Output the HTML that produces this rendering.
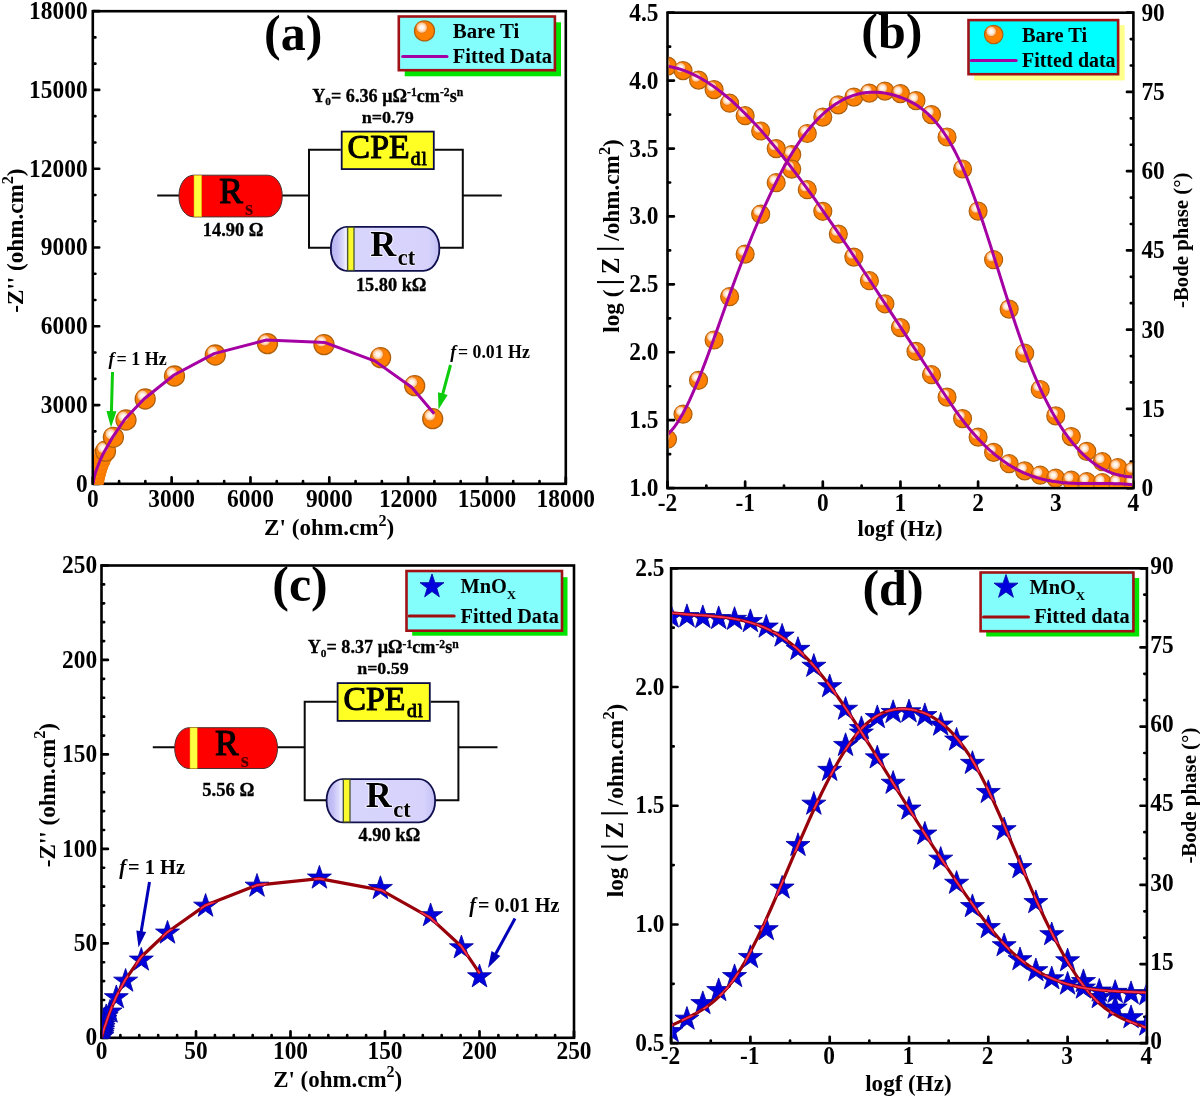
<!DOCTYPE html>
<html lang="en">
<head>
<meta charset="utf-8">
<title>EIS Nyquist and Bode plots: Bare Ti and MnOx</title>
<style>
html,body{margin:0;padding:0;background:#ffffff;}
body{width:1200px;height:1097px;overflow:hidden;}
svg{display:block;font-family:'Liberation Serif','DejaVu Serif',serif;font-weight:bold;}
text{fill:#000;}
</style>
</head>
<body>
<svg width="1200" height="1097" viewBox="0 0 1200 1097" role="img" aria-label="Nyquist and Bode plots with equivalent circuits for Bare Ti and MnOx">
<rect width="1200" height="1097" fill="#ffffff"/>
<defs>
<radialGradient id="hl" cx="0.5" cy="0.5" r="0.5">
<stop offset="0" stop-color="#ffffff"/>
<stop offset="0.4" stop-color="#fff2e4"/>
<stop offset="0.8" stop-color="#ffc490"/>
<stop offset="1" stop-color="#ff9a40"/>
</radialGradient>
<g id="ball">
<circle r="10" fill="#ff8000" stroke="#b0600c" stroke-width="1.3"/>
<circle cx="-2.7" cy="-3.3" r="5.7" fill="url(#hl)" stroke="#e07414" stroke-width="0.8"/>
</g>
<g id="ballc">
<circle r="10" fill="#ff8000" stroke="#f07804" stroke-width="1"/>
<circle cx="-2.7" cy="-3.3" r="5.7" fill="url(#hl)" opacity="0.75"/>
</g>
<path id="star" d="M0,-12.6 L2.95,-3.95 L12,-3.95 L4.75,1.5 L7.4,10.2 L0,4.95 L-7.4,10.2 L-4.75,1.5 L-12,-3.95 L-2.95,-3.95 Z" fill="#0000dc" stroke="#0000a0" stroke-width="0.8" stroke-linejoin="miter"/>
<path id="starc" d="M0,-12.6 L2.95,-3.95 L12,-3.95 L4.75,1.5 L7.4,10.2 L0,4.95 L-7.4,10.2 L-4.75,1.5 L-12,-3.95 L-2.95,-3.95 Z"/>
<linearGradient id="lav" x1="0" y1="0" x2="1" y2="0">
<stop offset="0" stop-color="#b6b2f0"/>
<stop offset="0.06" stop-color="#c4c0f6"/>
<stop offset="0.13" stop-color="#e6e4ff"/>
<stop offset="0.2" stop-color="#d8d5fd"/>
<stop offset="0.9" stop-color="#d6d2fc"/>
<stop offset="1" stop-color="#c2bef4"/>
</linearGradient>
</defs>
<clipPath id="ca"><rect x="94" y="11.2" width="473" height="473.2"/></clipPath>
<rect x="92.8" y="11.2" width="473" height="472.6" fill="none" stroke="#000" stroke-width="2.6"/>
<path d="M93.3,483.8h5.9M93.3,457.54h2.1M93.3,431.29h2.1M93.3,405.03h5.9M93.3,378.78h2.1M93.3,352.52h2.1M93.3,326.27h5.9M93.3,300.01h2.1M93.3,273.76h2.1M93.3,247.5h5.9M93.3,221.24h2.1M93.3,194.99h2.1M93.3,168.73h5.9M93.3,142.48h2.1M93.3,116.22h2.1M93.3,89.97h5.9M93.3,63.71h2.1M93.3,37.46h2.1M93.3,11.2h5.9" stroke="#000" stroke-width="2.7" stroke-linecap="round" fill="none"/>
<text transform="translate(87.6 491.59) scale(1 1.05)" font-size="23.4" text-anchor="end">0</text>
<text transform="translate(87.6 412.83) scale(1 1.05)" font-size="23.4" text-anchor="end">3000</text>
<text transform="translate(87.6 334.06) scale(1 1.05)" font-size="23.4" text-anchor="end">6000</text>
<text transform="translate(87.6 255.29) scale(1 1.05)" font-size="23.4" text-anchor="end">9000</text>
<text transform="translate(87.6 176.53) scale(1 1.05)" font-size="23.4" text-anchor="end">12000</text>
<text transform="translate(87.6 97.76) scale(1 1.05)" font-size="23.4" text-anchor="end">15000</text>
<text transform="translate(87.6 18.99) scale(1 1.05)" font-size="23.4" text-anchor="end">18000</text>
<path d="M92.8,483.3v-5.9M119.08,483.3v-2.1M145.36,483.3v-2.1M171.63,483.3v-5.9M197.91,483.3v-2.1M224.19,483.3v-2.1M250.47,483.3v-5.9M276.74,483.3v-2.1M303.02,483.3v-2.1M329.3,483.3v-5.9M355.58,483.3v-2.1M381.86,483.3v-2.1M408.13,483.3v-5.9M434.41,483.3v-2.1M460.69,483.3v-2.1M486.97,483.3v-5.9M513.24,483.3v-2.1M539.52,483.3v-2.1M565.8,483.3v-5.9" stroke="#000" stroke-width="2.7" stroke-linecap="round" fill="none"/>
<text transform="translate(92.8 506.6) scale(1 1.05)" font-size="23.4" text-anchor="middle">0</text>
<text transform="translate(171.63 506.6) scale(1 1.05)" font-size="23.4" text-anchor="middle">3000</text>
<text transform="translate(250.47 506.6) scale(1 1.05)" font-size="23.4" text-anchor="middle">6000</text>
<text transform="translate(329.3 506.6) scale(1 1.05)" font-size="23.4" text-anchor="middle">9000</text>
<text transform="translate(408.13 506.6) scale(1 1.05)" font-size="23.4" text-anchor="middle">12000</text>
<text transform="translate(486.97 506.6) scale(1 1.05)" font-size="23.4" text-anchor="middle">15000</text>
<text transform="translate(565.8 506.6) scale(1 1.05)" font-size="23.4" text-anchor="middle">18000</text>
<g clip-path="url(#ca)">
<use href="#ballc" x="93.4" y="482.5"/>
<use href="#ballc" x="93.8" y="480.5"/>
<use href="#ballc" x="94.3" y="478.2"/>
<use href="#ballc" x="94.9" y="475.6"/>
<use href="#ballc" x="95.7" y="472.6"/>
<use href="#ballc" x="96.8" y="469"/>
<use href="#ballc" x="98.2" y="465"/>
<use href="#ballc" x="100.2" y="460.3"/>
<use href="#ballc" x="102.5" y="455.5"/>
<use href="#ball" x="105.5" y="451.2"/>
<use href="#ball" x="113.4" y="437.3"/>
<use href="#ball" x="126" y="420"/>
<use href="#ball" x="145.2" y="399"/>
<use href="#ball" x="174.5" y="376"/>
<use href="#ball" x="215.3" y="355"/>
<use href="#ball" x="267.5" y="343.6"/>
<use href="#ball" x="324" y="344.6"/>
<use href="#ball" x="380.6" y="357.6"/>
<use href="#ball" x="414.7" y="385.7"/>
<use href="#ball" x="432.7" y="418.7"/>
<polyline points="93,484 93.6,480 94.6,475.5 95.8,471.5 97.3,467.5 99.2,462.5 101.4,457.5 104,452.2 113,436.6 125,419 144,399 174,375 214.1,353.6 266.5,340 325.2,342.6 375.1,361.1 411.7,387.2 434.2,413.7" fill="none" stroke="#a400a4" stroke-width="3.0" stroke-linejoin="round"/>
</g>
<text transform="translate(22.9 240.6) rotate(-90)" font-size="23.3" text-anchor="middle" textLength="144.2" lengthAdjust="spacingAndGlyphs">-Z'' (ohm.cm<tspan dy="-9.55" font-size="16.31">2</tspan><tspan dy="9.55">)</tspan></text>
<text transform="translate(329.2 535.2)" font-size="23.3" text-anchor="middle" textLength="130.2" lengthAdjust="spacingAndGlyphs">Z' (ohm.cm<tspan dy="-9.55" font-size="16.31">2</tspan><tspan dy="9.55">)</tspan></text>
<text transform="translate(293.2 50)" font-size="50" text-anchor="middle">(a)</text>
<line x1="112.5" y1="372" x2="111.39" y2="413.11" stroke="#0ccc0c" stroke-width="3"/>
<polygon points="111,427.6 106.45,410.97 116.44,411.24" fill="#0ccc0c"/>
<line x1="450.5" y1="365" x2="442.27" y2="395.6" stroke="#0ccc0c" stroke-width="3"/>
<polygon points="438.5,409.6 437.96,392.37 447.62,394.97" fill="#0ccc0c"/>
<text transform="translate(108.6 365) scale(1 1.04)" font-size="17.3" textLength="58.2" lengthAdjust="spacingAndGlyphs"><tspan font-style="italic">f</tspan><tspan dx="1.8">= 1 Hz</tspan></text>
<text transform="translate(450.2 358) scale(1 1.04)" font-size="17.3" textLength="79.6" lengthAdjust="spacingAndGlyphs"><tspan font-style="italic">f</tspan><tspan dx="1.8">= 0.01 Hz</tspan></text>
<rect x="404.7" y="22.3" width="156.3" height="54" fill="#00e400"/>
<rect x="398.8" y="16.5" width="156.1" height="53.7" fill="#84fdfd" stroke="#a01216" stroke-width="2.6"/>
<line x1="402.7" y1="56.5" x2="447" y2="56.5" stroke="#a400a4" stroke-width="3" stroke-linecap="round"/>
<use href="#ball" transform="translate(424.5 30.9) scale(1)"/>
<text transform="translate(452.8 38)" font-size="20.4" textLength="66.6" lengthAdjust="spacingAndGlyphs">Bare Ti</text>
<text transform="translate(452.8 63.2)" font-size="20.4">Fitted Data</text>
<path d="M157.2,195.6H180.5M280.7,195.6H309M340.8,149.7H309V247.8H332M434.7,149.7H462.8V247.8H438.2M462.8,195.6H501.8" fill="none" stroke="#0a0a0a" stroke-width="2.0"/>
<rect x="179" y="175.2" width="103.2" height="41.7" rx="14.5" ry="20" fill="#ff0000" stroke="#4a3030" stroke-width="1"/>
<rect x="194" y="175.3" width="7.7" height="41.5" fill="#ffff40" stroke="#d8a800" stroke-width="0.5"/>
<text transform="translate(219.2 202.6)" font-size="35.4" font-weight="normal" stroke="#000" stroke-width="1.2" stroke-linejoin="round">R<tspan x="25.8" y="11.9" font-size="21" font-weight="bold" fill="#480000" stroke="none">s</tspan></text>
<text transform="translate(202.8 235.7) scale(1 1.07)" font-size="17.3" textLength="60.6" lengthAdjust="spacingAndGlyphs" stroke="#000" stroke-width="0.3">14.90 Ω</text>
<rect x="341.7" y="131.6" width="92.1" height="37.5" fill="#ffff24" stroke="#0c0c44" stroke-width="1.8"/>
<text transform="translate(347.6 158)" font-size="33.8" font-weight="normal" stroke="#000" stroke-width="1.1" stroke-linejoin="round">CPE<tspan x="63.2" y="6.7" font-size="19.6" stroke-width="0.9" letter-spacing="0.9">dl</tspan></text>
<rect x="330.9" y="226.9" width="108.4" height="43.9" rx="16" ry="21" fill="url(#lav)" stroke="#10104e" stroke-width="1.8"/>
<rect x="347.7" y="227.2" width="6.3" height="43.3" fill="#fafa2c" stroke="#3c4a28" stroke-width="1.2"/>
<line x1="345.3" y1="227.8" x2="345.3" y2="269.9" stroke="#f4f2ff" stroke-width="1"/>
<text transform="translate(370.3 256)" font-size="36" stroke="#f2f0ff" stroke-width="2.2" paint-order="stroke" stroke-linejoin="round">R<tspan x="27.5" y="9.2" font-size="22.4" stroke-width="1.4">ct</tspan></text>
<text transform="translate(355.9 291.2) scale(1 1.07)" font-size="17.3" textLength="70.6" lengthAdjust="spacingAndGlyphs" stroke="#000" stroke-width="0.3">15.80 kΩ</text>
<text transform="translate(312.2 101.7)" font-size="18.3" textLength="151" lengthAdjust="spacingAndGlyphs" stroke="#000" stroke-width="0.3">Y<tspan dy="3.66" font-size="11.35">0</tspan><tspan dy="-3.66">= 6.36 μΩ</tspan><tspan dy="-5.31" font-size="11.71">-1</tspan><tspan dy="5.31">cm</tspan><tspan dy="-5.31" font-size="11.71">-2</tspan><tspan dy="5.31">s</tspan><tspan dy="-5.31" font-size="11.71">n</tspan></text>
<text transform="translate(361.7 123.2)" font-size="17.6" textLength="52" lengthAdjust="spacingAndGlyphs" stroke="#000" stroke-width="0.3">n=0.79</text>
<clipPath id="cb"><rect x="668.7" y="12.7" width="463.5" height="474.4"/></clipPath>
<rect x="667.5" y="12.7" width="465.9" height="475.4" fill="none" stroke="#000" stroke-width="2.6"/>
<path d="M668,488.1h5.9M668,454.14h2.1M668,420.19h5.9M668,386.23h2.1M668,352.27h5.9M668,318.31h2.1M668,284.36h5.9M668,250.4h2.1M668,216.44h5.9M668,182.49h2.1M668,148.53h5.9M668,114.57h2.1M668,80.61h5.9M668,46.66h2.1M668,12.7h5.9" stroke="#000" stroke-width="2.7" stroke-linecap="round" fill="none"/>
<text transform="translate(658.5 496.09) scale(1 1.05)" font-size="23.4" text-anchor="end">1.0</text>
<text transform="translate(658.5 428.18) scale(1 1.05)" font-size="23.4" text-anchor="end">1.5</text>
<text transform="translate(658.5 360.26) scale(1 1.05)" font-size="23.4" text-anchor="end">2.0</text>
<text transform="translate(658.5 292.35) scale(1 1.05)" font-size="23.4" text-anchor="end">2.5</text>
<text transform="translate(658.5 224.44) scale(1 1.05)" font-size="23.4" text-anchor="end">3.0</text>
<text transform="translate(658.5 156.52) scale(1 1.05)" font-size="23.4" text-anchor="end">3.5</text>
<text transform="translate(658.5 88.61) scale(1 1.05)" font-size="23.4" text-anchor="end">4.0</text>
<text transform="translate(658.5 20.69) scale(1 1.05)" font-size="23.4" text-anchor="end">4.5</text>
<path d="M1132.9,488.1h-5.9M1132.9,461.69h-2.1M1132.9,435.28h-2.1M1132.9,408.87h-5.9M1132.9,382.46h-2.1M1132.9,356.04h-2.1M1132.9,329.63h-5.9M1132.9,303.22h-2.1M1132.9,276.81h-2.1M1132.9,250.4h-5.9M1132.9,223.99h-2.1M1132.9,197.58h-2.1M1132.9,171.17h-5.9M1132.9,144.76h-2.1M1132.9,118.34h-2.1M1132.9,91.93h-5.9M1132.9,65.52h-2.1M1132.9,39.11h-2.1M1132.9,12.7h-5.9" stroke="#000" stroke-width="2.7" stroke-linecap="round" fill="none"/>
<text transform="translate(1141.4 496.09) scale(1 1.05)" font-size="23.4">0</text>
<text transform="translate(1141.4 416.86) scale(1 1.05)" font-size="23.4">15</text>
<text transform="translate(1141.4 337.63) scale(1 1.05)" font-size="23.4">30</text>
<text transform="translate(1141.4 258.39) scale(1 1.05)" font-size="23.4">45</text>
<text transform="translate(1141.4 179.16) scale(1 1.05)" font-size="23.4">60</text>
<text transform="translate(1141.4 99.93) scale(1 1.05)" font-size="23.4">75</text>
<text transform="translate(1141.4 20.69) scale(1 1.05)" font-size="23.4">90</text>
<path d="M667.5,487.6v-5.9M706.33,487.6v-2.1M745.15,487.6v-5.9M783.98,487.6v-2.1M822.8,487.6v-5.9M861.62,487.6v-2.1M900.45,487.6v-5.9M939.28,487.6v-2.1M978.1,487.6v-5.9M1016.93,487.6v-2.1M1055.75,487.6v-5.9M1094.58,487.6v-2.1M1133.4,487.6v-5.9" stroke="#000" stroke-width="2.7" stroke-linecap="round" fill="none"/>
<text transform="translate(667.5 511.3) scale(1 1.05)" font-size="23.4" text-anchor="middle">-2</text>
<text transform="translate(745.15 511.3) scale(1 1.05)" font-size="23.4" text-anchor="middle">-1</text>
<text transform="translate(822.8 511.3) scale(1 1.05)" font-size="23.4" text-anchor="middle">0</text>
<text transform="translate(900.45 511.3) scale(1 1.05)" font-size="23.4" text-anchor="middle">1</text>
<text transform="translate(978.1 511.3) scale(1 1.05)" font-size="23.4" text-anchor="middle">2</text>
<text transform="translate(1055.75 511.3) scale(1 1.05)" font-size="23.4" text-anchor="middle">3</text>
<text transform="translate(1133.4 511.3) scale(1 1.05)" font-size="23.4" text-anchor="middle">4</text>
<g clip-path="url(#cb)">
<use href="#ball" transform="translate(667.5 439.2) scale(0.9)"/>
<use href="#ball" transform="translate(683.03 414.2) scale(0.9)"/>
<use href="#ball" transform="translate(698.56 380.3) scale(0.9)"/>
<use href="#ball" transform="translate(714.09 340) scale(0.9)"/>
<use href="#ball" transform="translate(729.62 296.7) scale(0.9)"/>
<use href="#ball" transform="translate(745.15 254.1) scale(0.9)"/>
<use href="#ball" transform="translate(760.68 214.2) scale(0.9)"/>
<use href="#ball" transform="translate(776.21 182.7) scale(0.9)"/>
<use href="#ball" transform="translate(791.74 154.6) scale(0.9)"/>
<use href="#ball" transform="translate(807.27 133.5) scale(0.9)"/>
<use href="#ball" transform="translate(822.8 117.1) scale(0.9)"/>
<use href="#ball" transform="translate(838.33 104.9) scale(0.9)"/>
<use href="#ball" transform="translate(853.86 97.1) scale(0.9)"/>
<use href="#ball" transform="translate(869.39 93.1) scale(0.9)"/>
<use href="#ball" transform="translate(884.92 91.1) scale(0.9)"/>
<use href="#ball" transform="translate(900.45 93.6) scale(0.9)"/>
<use href="#ball" transform="translate(915.98 100.6) scale(0.9)"/>
<use href="#ball" transform="translate(931.51 114.6) scale(0.9)"/>
<use href="#ball" transform="translate(947.04 137) scale(0.9)"/>
<use href="#ball" transform="translate(962.57 169) scale(0.9)"/>
<use href="#ball" transform="translate(978.1 211.1) scale(0.9)"/>
<use href="#ball" transform="translate(993.63 259.7) scale(0.9)"/>
<use href="#ball" transform="translate(1009.16 309.1) scale(0.9)"/>
<use href="#ball" transform="translate(1024.69 353.2) scale(0.9)"/>
<use href="#ball" transform="translate(1040.22 389.5) scale(0.9)"/>
<use href="#ball" transform="translate(1055.75 415.9) scale(0.9)"/>
<use href="#ball" transform="translate(1071.28 436.6) scale(0.9)"/>
<use href="#ball" transform="translate(1086.81 451.4) scale(0.9)"/>
<use href="#ball" transform="translate(1102.34 461.7) scale(0.9)"/>
<use href="#ball" transform="translate(1117.87 467.7) scale(0.9)"/>
<use href="#ball" transform="translate(1133.4 471) scale(0.9)"/>
<use href="#ball" transform="translate(667.5 66.1) scale(0.9)"/>
<use href="#ball" transform="translate(683.03 70.6) scale(0.9)"/>
<use href="#ball" transform="translate(698.56 80.1) scale(0.9)"/>
<use href="#ball" transform="translate(714.09 89.6) scale(0.9)"/>
<use href="#ball" transform="translate(729.62 103.2) scale(0.9)"/>
<use href="#ball" transform="translate(745.15 115.7) scale(0.9)"/>
<use href="#ball" transform="translate(760.68 131) scale(0.9)"/>
<use href="#ball" transform="translate(776.21 148.6) scale(0.9)"/>
<use href="#ball" transform="translate(791.74 169.1) scale(0.9)"/>
<use href="#ball" transform="translate(807.27 189.7) scale(0.9)"/>
<use href="#ball" transform="translate(822.8 211.3) scale(0.9)"/>
<use href="#ball" transform="translate(838.33 234.1) scale(0.9)"/>
<use href="#ball" transform="translate(853.86 257.1) scale(0.9)"/>
<use href="#ball" transform="translate(869.39 280.7) scale(0.9)"/>
<use href="#ball" transform="translate(884.92 303.8) scale(0.9)"/>
<use href="#ball" transform="translate(900.45 327.6) scale(0.9)"/>
<use href="#ball" transform="translate(915.98 351.3) scale(0.9)"/>
<use href="#ball" transform="translate(931.51 374.7) scale(0.9)"/>
<use href="#ball" transform="translate(947.04 397.1) scale(0.9)"/>
<use href="#ball" transform="translate(962.57 418.6) scale(0.9)"/>
<use href="#ball" transform="translate(978.1 437.1) scale(0.9)"/>
<use href="#ball" transform="translate(993.63 452.4) scale(0.9)"/>
<use href="#ball" transform="translate(1009.16 463.7) scale(0.9)"/>
<use href="#ball" transform="translate(1024.69 470.9) scale(0.9)"/>
<use href="#ball" transform="translate(1040.22 475.2) scale(0.9)"/>
<use href="#ball" transform="translate(1055.75 478.2) scale(0.9)"/>
<use href="#ball" transform="translate(1071.28 480.2) scale(0.9)"/>
<use href="#ball" transform="translate(1086.81 481.7) scale(0.9)"/>
<use href="#ball" transform="translate(1102.34 482.7) scale(0.9)"/>
<use href="#ball" transform="translate(1117.87 483.2) scale(0.9)"/>
<use href="#ball" transform="translate(1133.4 483.5) scale(0.9)"/>
<polyline points="667.5,434.62 670.63,431.55 673.75,427.81 676.88,423.45 680.01,418.5 683.13,413.01 686.26,407.03 689.39,400.58 692.51,393.71 695.64,386.46 698.77,378.88 701.9,371 705.02,362.87 708.15,354.53 711.28,346.01 714.4,337.36 717.53,328.63 720.66,319.84 723.78,311.05 726.91,302.29 730.04,293.61 733.16,285.03 736.29,276.58 739.42,268.25 742.54,260.05 745.67,251.99 748.8,244.08 751.92,236.31 755.05,228.71 758.18,221.27 761.31,214 764.43,206.92 767.56,200.01 770.69,193.3 773.81,186.79 776.94,180.49 780.07,174.39 783.19,168.52 786.32,162.87 789.45,157.45 792.57,152.27 795.7,147.34 798.83,142.64 801.95,138.18 805.08,133.95 808.21,129.95 811.33,126.18 814.46,122.62 817.59,119.28 820.72,116.16 823.84,113.24 826.97,110.53 830.1,108.03 833.22,105.72 836.35,103.61 839.48,101.69 842.6,99.95 845.73,98.41 848.86,97.04 851.98,95.85 855.11,94.83 858.24,93.98 861.36,93.3 864.49,92.78 867.62,92.42 870.74,92.21 873.87,92.16 877,92.25 880.13,92.48 883.25,92.86 886.38,93.37 889.51,94.02 892.63,94.79 895.76,95.69 898.89,96.72 902.01,97.86 905.14,99.12 908.27,100.54 911.39,102.11 914.52,103.87 917.65,105.83 920.77,108 923.9,110.42 927.03,113.09 930.16,116.04 933.28,119.28 936.41,122.84 939.54,126.73 942.66,130.96 945.79,135.57 948.92,140.57 952.04,145.97 955.17,151.8 958.3,158.08 961.42,164.81 964.55,172.03 967.68,179.71 970.8,187.81 973.93,196.28 977.06,205.09 980.18,214.19 983.31,223.54 986.44,233.1 989.57,242.83 992.69,252.67 995.82,262.6 998.95,272.56 1002.07,282.52 1005.2,292.43 1008.33,302.26 1011.45,311.95 1014.58,321.46 1017.71,330.76 1020.83,339.8 1023.96,348.54 1027.09,356.93 1030.21,364.98 1033.34,372.69 1036.47,380.05 1039.59,387.09 1042.72,393.81 1045.85,400.21 1048.98,406.3 1052.1,412.08 1055.23,417.57 1058.36,422.76 1061.48,427.67 1064.61,432.31 1067.74,436.67 1070.86,440.77 1073.99,444.61 1077.12,448.19 1080.24,451.53 1083.37,454.63 1086.5,457.5 1089.62,460.15 1092.75,462.57 1095.88,464.78 1099,466.78 1102.13,468.59 1105.26,470.2 1108.39,471.62 1111.51,472.86 1114.64,473.93 1117.77,474.83 1120.89,475.56 1124.02,476.15 1127.15,476.58 1130.27,476.87 1133.4,477.03" fill="none" stroke="#a400a4" stroke-width="3.0" stroke-linejoin="round"/>
<polyline points="667.5,66.31 670.63,66.83 673.75,67.48 676.88,68.26 680.01,69.17 683.13,70.21 686.26,71.37 689.39,72.66 692.51,74.06 695.64,75.59 698.77,77.22 701.9,78.98 705.02,80.84 708.15,82.81 711.28,84.89 714.4,87.07 717.53,89.36 720.66,91.74 723.78,94.22 726.91,96.8 730.04,99.47 733.16,102.24 736.29,105.09 739.42,108.02 742.54,111.05 745.67,114.15 748.8,117.34 751.92,120.6 755.05,123.93 758.18,127.34 761.31,130.83 764.43,134.38 767.56,137.99 770.69,141.67 773.81,145.42 776.94,149.22 780.07,153.08 783.19,156.99 786.32,160.96 789.45,164.98 792.57,169.05 795.7,173.16 798.83,177.32 801.95,181.52 805.08,185.77 808.21,190.05 811.33,194.38 814.46,198.74 817.59,203.13 820.72,207.56 823.84,212.03 826.97,216.52 830.1,221.04 833.22,225.59 836.35,230.16 839.48,234.76 842.6,239.39 845.73,244.03 848.86,248.69 851.98,253.38 855.11,258.07 858.24,262.79 861.36,267.51 864.49,272.25 867.62,277 870.74,281.75 873.87,286.52 877,291.29 880.13,296.06 883.25,300.83 886.38,305.61 889.51,310.38 892.63,315.16 895.76,319.92 898.89,324.69 902.01,329.44 905.14,334.19 908.27,338.93 911.39,343.68 914.52,348.42 917.65,353.17 920.77,357.93 923.9,362.7 927.03,367.48 930.16,372.27 933.28,377.08 936.41,381.91 939.54,386.72 942.66,391.51 945.79,396.25 948.92,400.93 952.04,405.53 955.17,410.03 958.3,414.41 961.42,418.66 964.55,422.75 967.68,426.69 970.8,430.47 973.93,434.09 977.06,437.57 980.18,440.89 983.31,444.07 986.44,447.1 989.57,449.98 992.69,452.73 995.82,455.33 998.95,457.8 1002.07,460.14 1005.2,462.34 1008.33,464.41 1011.45,466.35 1014.58,468.16 1017.71,469.85 1020.83,471.42 1023.96,472.86 1027.09,474.19 1030.21,475.41 1033.34,476.52 1036.47,477.52 1039.59,478.42 1042.72,479.23 1045.85,479.96 1048.98,480.6 1052.1,481.16 1055.23,481.64 1058.36,482.06 1061.48,482.42 1064.61,482.71 1067.74,482.96 1070.86,483.15 1073.99,483.31 1077.12,483.42 1080.24,483.5 1083.37,483.55 1086.5,483.58 1089.62,483.6 1092.75,483.6 1095.88,483.59 1099,483.57 1102.13,483.57 1105.26,483.56 1108.39,483.57 1111.51,483.6 1114.64,483.65 1117.77,483.73 1120.89,483.83 1124.02,483.98 1127.15,484.17 1130.27,484.41 1133.4,484.7" fill="none" stroke="#a400a4" stroke-width="3.0" stroke-linejoin="round"/>
</g>
<text transform="translate(619.2 236) rotate(-90)" font-size="23.3" text-anchor="middle" textLength="193.5" lengthAdjust="spacingAndGlyphs">log (<tspan font-size="29.12" dx="4.4" dy="-1.2">|</tspan><tspan dx="4.6" dy="1.2" font-size="25.4">Z</tspan><tspan font-size="29.12" dx="5.4" dy="-1.2">|</tspan><tspan dx="5" dy="1.2">/ohm.cm</tspan><tspan dy="-9.55" font-size="16.31">2</tspan><tspan dy="9.55">)</tspan></text>
<text transform="translate(1188.2 240.3) rotate(-90)" font-size="21" text-anchor="middle" textLength="135.5" lengthAdjust="spacingAndGlyphs">-Bode phase (°)</text>
<text transform="translate(900 535.8)" font-size="23.3" text-anchor="middle" textLength="85.2" lengthAdjust="spacingAndGlyphs">logf (Hz)</text>
<text transform="translate(891.8 47.7)" font-size="50" text-anchor="middle">(b)</text>
<rect x="974.2" y="25.2" width="150.5" height="55.2" fill="#ffff8c"/>
<rect x="968.5" y="20.1" width="149.6" height="54.1" fill="#00ffff" stroke="#a01216" stroke-width="2.6"/>
<line x1="971.2" y1="60.5" x2="1016.2" y2="60.5" stroke="#a400a4" stroke-width="3" stroke-linecap="round"/>
<use href="#ball" transform="translate(993.7 34.5) scale(0.92)"/>
<text transform="translate(1022 41.7)" font-size="20.4">Bare Ti</text>
<text transform="translate(1022 67.2)" font-size="20.4" textLength="93.6" lengthAdjust="spacingAndGlyphs">Fitted data</text>
<clipPath id="cc"><rect x="102.7" y="565.5" width="472.5" height="472.9"/></clipPath>
<rect x="101.5" y="565.5" width="472.5" height="472.3" fill="none" stroke="#000" stroke-width="2.6"/>
<path d="M102,1037.8h5.9M102,1018.91h2.1M102,1000.02h2.1M102,981.12h2.1M102,962.23h2.1M102,943.34h5.9M102,924.45h2.1M102,905.56h2.1M102,886.66h2.1M102,867.77h2.1M102,848.88h5.9M102,829.99h2.1M102,811.1h2.1M102,792.2h2.1M102,773.31h2.1M102,754.42h5.9M102,735.53h2.1M102,716.64h2.1M102,697.74h2.1M102,678.85h2.1M102,659.96h5.9M102,641.07h2.1M102,622.18h2.1M102,603.28h2.1M102,584.39h2.1M102,565.5h5.9" stroke="#000" stroke-width="2.7" stroke-linecap="round" fill="none"/>
<text transform="translate(97.1 1045.49) scale(1 1.05)" font-size="23.4" text-anchor="end">0</text>
<text transform="translate(97.1 951.03) scale(1 1.05)" font-size="23.4" text-anchor="end">50</text>
<text transform="translate(97.1 856.57) scale(1 1.05)" font-size="23.4" text-anchor="end">100</text>
<text transform="translate(97.1 762.11) scale(1 1.05)" font-size="23.4" text-anchor="end">150</text>
<text transform="translate(97.1 667.65) scale(1 1.05)" font-size="23.4" text-anchor="end">200</text>
<text transform="translate(97.1 573.19) scale(1 1.05)" font-size="23.4" text-anchor="end">250</text>
<path d="M101.5,1037.3v-5.9M120.4,1037.3v-2.1M139.3,1037.3v-2.1M158.2,1037.3v-2.1M177.1,1037.3v-2.1M196,1037.3v-5.9M214.9,1037.3v-2.1M233.8,1037.3v-2.1M252.7,1037.3v-2.1M271.6,1037.3v-2.1M290.5,1037.3v-5.9M309.4,1037.3v-2.1M328.3,1037.3v-2.1M347.2,1037.3v-2.1M366.1,1037.3v-2.1M385,1037.3v-5.9M403.9,1037.3v-2.1M422.8,1037.3v-2.1M441.7,1037.3v-2.1M460.6,1037.3v-2.1M479.5,1037.3v-5.9M498.4,1037.3v-2.1M517.3,1037.3v-2.1M536.2,1037.3v-2.1M555.1,1037.3v-2.1M574,1037.3v-5.9" stroke="#000" stroke-width="2.7" stroke-linecap="round" fill="none"/>
<text transform="translate(101.5 1059) scale(1 1.05)" font-size="23.4" text-anchor="middle">0</text>
<text transform="translate(196 1059) scale(1 1.05)" font-size="23.4" text-anchor="middle">50</text>
<text transform="translate(290.5 1059) scale(1 1.05)" font-size="23.4" text-anchor="middle">100</text>
<text transform="translate(385 1059) scale(1 1.05)" font-size="23.4" text-anchor="middle">150</text>
<text transform="translate(479.5 1059) scale(1 1.05)" font-size="23.4" text-anchor="middle">200</text>
<text transform="translate(574 1059) scale(1 1.05)" font-size="23.4" text-anchor="middle">250</text>
<g clip-path="url(#cc)">
<use href="#star" x="101.9" y="1036.5"/>
<use href="#star" x="102.1" y="1034.5"/>
<use href="#star" x="102.4" y="1032.3"/>
<use href="#star" x="102.7" y="1030"/>
<use href="#star" x="103.1" y="1027.5"/>
<use href="#star" x="103.6" y="1025"/>
<use href="#star" x="104.2" y="1022.3"/>
<use href="#star" x="105" y="1019.5"/>
<use href="#star" x="106.2" y="1016.5"/>
<use href="#star" x="110" y="1012"/>
<use href="#star" x="116.3" y="997.6"/>
<use href="#star" x="125.6" y="981.1"/>
<use href="#star" x="141.3" y="960"/>
<use href="#star" x="167.5" y="933"/>
<use href="#star" x="205.6" y="906.1"/>
<use href="#star" x="257" y="886.1"/>
<use href="#star" x="319.4" y="878"/>
<use href="#star" x="380.4" y="888.4"/>
<use href="#star" x="430.6" y="915.6"/>
<use href="#star" x="461.4" y="947.7"/>
<use href="#star" x="479.5" y="976.7"/>
<clipPath id="sc">
<use href="#starc" x="101.9" y="1036.5"/>
<use href="#starc" x="102.1" y="1034.5"/>
<use href="#starc" x="102.4" y="1032.3"/>
<use href="#starc" x="102.7" y="1030"/>
<use href="#starc" x="103.1" y="1027.5"/>
<use href="#starc" x="103.6" y="1025"/>
<use href="#starc" x="104.2" y="1022.3"/>
<use href="#starc" x="105" y="1019.5"/>
<use href="#starc" x="106.2" y="1016.5"/>
<use href="#starc" x="110" y="1012"/>
<use href="#starc" x="116.3" y="997.6"/>
<use href="#starc" x="125.6" y="981.1"/>
<use href="#starc" x="141.3" y="960"/>
<use href="#starc" x="167.5" y="933"/>
<use href="#starc" x="205.6" y="906.1"/>
<use href="#starc" x="257" y="886.1"/>
<use href="#starc" x="319.4" y="878"/>
<use href="#starc" x="380.4" y="888.4"/>
<use href="#starc" x="430.6" y="915.6"/>
<use href="#starc" x="461.4" y="947.7"/>
<use href="#starc" x="479.5" y="976.7"/>
</clipPath>
<polyline points="101.5,1038 102,1036.2 103.1,1032 104.4,1027.5 106,1023.2 108.2,1016.5 111,1009.2 116.5,996.1 125.1,980.1 141.1,957 167,932.5 205,905.6 257.2,885.1 319.4,878.6 381.2,890.1 430.1,917.6 461.2,946.2 479.7,973.3" fill="none" stroke="#98000a" stroke-width="3.2" stroke-linejoin="round"/>
<g clip-path="url(#sc)">
<polyline points="101.5,1038 102,1036.2 103.1,1032 104.4,1027.5 106,1023.2 108.2,1016.5 111,1009.2 116.5,996.1 125.1,980.1 141.1,957 167,932.5 205,905.6 257.2,885.1 319.4,878.6 381.2,890.1 430.1,917.6 461.2,946.2 479.7,973.3" fill="none" stroke="#ff3454" stroke-width="1.7" stroke-linejoin="round"/>
</g>
</g>
<text transform="translate(54.6 795.1) rotate(-90)" font-size="23.3" text-anchor="middle" textLength="144.2" lengthAdjust="spacingAndGlyphs">-Z'' (ohm.cm<tspan dy="-9.55" font-size="16.31">2</tspan><tspan dy="9.55">)</tspan></text>
<text transform="translate(337.7 1087)" font-size="23.3" text-anchor="middle" textLength="129" lengthAdjust="spacingAndGlyphs">Z' (ohm.cm<tspan dy="-9.55" font-size="16.31">2</tspan><tspan dy="9.55">)</tspan></text>
<text transform="translate(300 601)" font-size="50" text-anchor="middle">(c)</text>
<line x1="149.5" y1="882" x2="140.9" y2="933.2" stroke="#0000b8" stroke-width="3"/>
<polygon points="138.5,947.5 136.3,930.4 146.16,932.06" fill="#0000b8"/>
<line x1="515" y1="918.5" x2="494.94" y2="955.27" stroke="#0000b8" stroke-width="3"/>
<polygon points="488,968 491.51,951.12 500.29,955.91" fill="#0000b8"/>
<text transform="translate(119.2 874) scale(1 1.04)" font-size="20" textLength="65.8" lengthAdjust="spacingAndGlyphs"><tspan font-style="italic">f</tspan><tspan dx="2">= 1 Hz</tspan></text>
<text transform="translate(469.2 911.5) scale(1 1.04)" font-size="20" textLength="90.2" lengthAdjust="spacingAndGlyphs"><tspan font-style="italic">f</tspan><tspan dx="2">= 0.01 Hz</tspan></text>
<rect x="412.2" y="577.2" width="155.3" height="58.5" fill="#00e400"/>
<rect x="406.5" y="571" width="155.5" height="59.7" fill="#84fdfd" stroke="#a01216" stroke-width="2.6"/>
<line x1="409.2" y1="616" x2="454.2" y2="616" stroke="#a00c10" stroke-width="3" stroke-linecap="round"/>
<use href="#star" transform="translate(432 586.6) scale(1)"/>
<text transform="translate(460.4 592.7)" font-size="20.4">MnO<tspan dy="5.92" font-size="12.85">X</tspan></text>
<text transform="translate(460.6 622.7)" font-size="20.4" textLength="98.2" lengthAdjust="spacingAndGlyphs">Fitted Data</text>
<path d="M152.8,747.3H176.2M276,747.3H304.7M336.7,701.8H304.7V800.3H327.7M430.7,701.8H458.4V800.3H434M458.4,747.3H497.5" fill="none" stroke="#0a0a0a" stroke-width="2.0"/>
<rect x="174.7" y="727.7" width="102.8" height="40.8" rx="14.5" ry="20" fill="#ff0000" stroke="#4a3030" stroke-width="1"/>
<rect x="190" y="727.8" width="7.2" height="40.6" fill="#ffff40" stroke="#d8a800" stroke-width="0.5"/>
<text transform="translate(214.9 754.5)" font-size="35.4" font-weight="normal" stroke="#000" stroke-width="1.2" stroke-linejoin="round">R<tspan x="25.8" y="12.7" font-size="21" font-weight="bold" fill="#480000" stroke="none">s</tspan></text>
<text transform="translate(202.2 796.2) scale(1 1.07)" font-size="17.3" textLength="52.2" lengthAdjust="spacingAndGlyphs" stroke="#000" stroke-width="0.3">5.56 Ω</text>
<rect x="337.6" y="683.1" width="92.2" height="37.8" fill="#ffff24" stroke="#0c0c44" stroke-width="1.8"/>
<text transform="translate(343.4 709.5)" font-size="33.8" font-weight="normal" stroke="#000" stroke-width="1.1" stroke-linejoin="round">CPE<tspan x="63.7" y="7.5" font-size="19.6" stroke-width="0.9" letter-spacing="0.6">dl</tspan></text>
<rect x="326.6" y="779.1" width="108.5" height="43.2" rx="16" ry="21" fill="url(#lav)" stroke="#10104e" stroke-width="1.8"/>
<rect x="343.3" y="779.4" width="6.7" height="42.6" fill="#fafa2c" stroke="#3c4a28" stroke-width="1.2"/>
<line x1="340.9" y1="780" x2="340.9" y2="821.4" stroke="#f4f2ff" stroke-width="1"/>
<text transform="translate(365.8 806.7)" font-size="36" stroke="#f2f0ff" stroke-width="2.2" paint-order="stroke" stroke-linejoin="round">R<tspan x="27.5" y="10.7" font-size="22.4" stroke-width="1.4">ct</tspan></text>
<text transform="translate(358.4 841.2) scale(1 1.07)" font-size="17.3" textLength="62" lengthAdjust="spacingAndGlyphs" stroke="#000" stroke-width="0.3">4.90 kΩ</text>
<text transform="translate(307.7 653.2)" font-size="18.3" textLength="151" lengthAdjust="spacingAndGlyphs" stroke="#000" stroke-width="0.3">Y<tspan dy="3.66" font-size="11.35">0</tspan><tspan dy="-3.66">= 8.37 μΩ</tspan><tspan dy="-5.31" font-size="11.71">-1</tspan><tspan dy="5.31">cm</tspan><tspan dy="-5.31" font-size="11.71">-2</tspan><tspan dy="5.31">s</tspan><tspan dy="-5.31" font-size="11.71">n</tspan></text>
<text transform="translate(357.2 674.2)" font-size="17.6" textLength="51.5" lengthAdjust="spacingAndGlyphs" stroke="#000" stroke-width="0.3">n=0.59</text>
<clipPath id="cd"><rect x="672.3" y="568.3" width="473.4" height="473.9"/></clipPath>
<rect x="671.1" y="568.3" width="475.8" height="474.9" fill="none" stroke="#000" stroke-width="2.6"/>
<path d="M671.6,1043.2h5.9M671.6,983.84h2.1M671.6,924.48h5.9M671.6,865.11h2.1M671.6,805.75h5.9M671.6,746.39h2.1M671.6,687.02h5.9M671.6,627.66h2.1M671.6,568.3h5.9" stroke="#000" stroke-width="2.7" stroke-linecap="round" fill="none"/>
<text transform="translate(664.5 1050.79) scale(1 1.05)" font-size="23.4" text-anchor="end">0.5</text>
<text transform="translate(664.5 932.07) scale(1 1.05)" font-size="23.4" text-anchor="end">1.0</text>
<text transform="translate(664.5 813.34) scale(1 1.05)" font-size="23.4" text-anchor="end">1.5</text>
<text transform="translate(664.5 694.62) scale(1 1.05)" font-size="23.4" text-anchor="end">2.0</text>
<text transform="translate(664.5 575.89) scale(1 1.05)" font-size="23.4" text-anchor="end">2.5</text>
<path d="M1146.4,1043.2h-5.9M1146.4,1016.82h-2.1M1146.4,990.43h-2.1M1146.4,964.05h-5.9M1146.4,937.67h-2.1M1146.4,911.28h-2.1M1146.4,884.9h-5.9M1146.4,858.52h-2.1M1146.4,832.13h-2.1M1146.4,805.75h-5.9M1146.4,779.37h-2.1M1146.4,752.98h-2.1M1146.4,726.6h-5.9M1146.4,700.22h-2.1M1146.4,673.83h-2.1M1146.4,647.45h-5.9M1146.4,621.07h-2.1M1146.4,594.68h-2.1M1146.4,568.3h-5.9" stroke="#000" stroke-width="2.7" stroke-linecap="round" fill="none"/>
<text transform="translate(1150.3 1048.89) scale(1 1.05)" font-size="23.4">0</text>
<text transform="translate(1150.3 969.74) scale(1 1.05)" font-size="23.4">15</text>
<text transform="translate(1150.3 890.59) scale(1 1.05)" font-size="23.4">30</text>
<text transform="translate(1150.3 811.44) scale(1 1.05)" font-size="23.4">45</text>
<text transform="translate(1150.3 732.29) scale(1 1.05)" font-size="23.4">60</text>
<text transform="translate(1150.3 653.14) scale(1 1.05)" font-size="23.4">75</text>
<text transform="translate(1150.3 573.99) scale(1 1.05)" font-size="23.4">90</text>
<path d="M671.1,1042.7v-5.9M710.75,1042.7v-2.1M750.4,1042.7v-5.9M790.05,1042.7v-2.1M829.7,1042.7v-5.9M869.35,1042.7v-2.1M909,1042.7v-5.9M948.65,1042.7v-2.1M988.3,1042.7v-5.9M1027.95,1042.7v-2.1M1067.6,1042.7v-5.9M1107.25,1042.7v-2.1M1146.9,1042.7v-5.9" stroke="#000" stroke-width="2.7" stroke-linecap="round" fill="none"/>
<text transform="translate(670.5 1064.4) scale(1 1.05)" font-size="23.4" text-anchor="middle">-2</text>
<text transform="translate(749.8 1064.4) scale(1 1.05)" font-size="23.4" text-anchor="middle">-1</text>
<text transform="translate(829.1 1064.4) scale(1 1.05)" font-size="23.4" text-anchor="middle">0</text>
<text transform="translate(908.4 1064.4) scale(1 1.05)" font-size="23.4" text-anchor="middle">1</text>
<text transform="translate(987.7 1064.4) scale(1 1.05)" font-size="23.4" text-anchor="middle">2</text>
<text transform="translate(1067 1064.4) scale(1 1.05)" font-size="23.4" text-anchor="middle">3</text>
<text transform="translate(1146.3 1064.4) scale(1 1.05)" font-size="23.4" text-anchor="middle">4</text>
<g clip-path="url(#cd)">
<use href="#star" x="671.1" y="1031.5"/>
<use href="#star" x="686.96" y="1019.1"/>
<use href="#star" x="702.82" y="1003.5"/>
<use href="#star" x="718.68" y="990.5"/>
<use href="#star" x="734.54" y="976.5"/>
<use href="#star" x="750.4" y="957.4"/>
<use href="#star" x="766.26" y="929.6"/>
<use href="#star" x="782.12" y="888"/>
<use href="#star" x="797.98" y="845.4"/>
<use href="#star" x="813.84" y="804.1"/>
<use href="#star" x="829.7" y="770.3"/>
<use href="#star" x="845.56" y="745.4"/>
<use href="#star" x="861.42" y="728.5"/>
<use href="#star" x="877.28" y="717.5"/>
<use href="#star" x="893.14" y="712.4"/>
<use href="#star" x="909" y="711.7"/>
<use href="#star" x="924.86" y="715.5"/>
<use href="#star" x="940.72" y="725"/>
<use href="#star" x="956.58" y="740"/>
<use href="#star" x="972.44" y="763.3"/>
<use href="#star" x="988.3" y="792.4"/>
<use href="#star" x="1004.16" y="829.6"/>
<use href="#star" x="1020.02" y="867.5"/>
<use href="#star" x="1035.88" y="902.5"/>
<use href="#star" x="1051.74" y="934.6"/>
<use href="#star" x="1067.6" y="960.7"/>
<use href="#star" x="1083.46" y="981.5"/>
<use href="#star" x="1099.32" y="997.5"/>
<use href="#star" x="1115.18" y="1008"/>
<use href="#star" x="1131.04" y="1017.6"/>
<use href="#star" x="1146.9" y="1025"/>
<use href="#star" x="671.1" y="617"/>
<use href="#star" x="686.96" y="616.5"/>
<use href="#star" x="702.82" y="617.5"/>
<use href="#star" x="718.68" y="618.5"/>
<use href="#star" x="734.54" y="619.3"/>
<use href="#star" x="750.4" y="621.5"/>
<use href="#star" x="766.26" y="627"/>
<use href="#star" x="782.12" y="636"/>
<use href="#star" x="797.98" y="649.3"/>
<use href="#star" x="813.84" y="666.2"/>
<use href="#star" x="829.7" y="686.6"/>
<use href="#star" x="845.56" y="709.2"/>
<use href="#star" x="861.42" y="733"/>
<use href="#star" x="877.28" y="757.8"/>
<use href="#star" x="893.14" y="783.2"/>
<use href="#star" x="909" y="809"/>
<use href="#star" x="924.86" y="834"/>
<use href="#star" x="940.72" y="859.1"/>
<use href="#star" x="956.58" y="883.2"/>
<use href="#star" x="972.44" y="906.5"/>
<use href="#star" x="988.3" y="927.5"/>
<use href="#star" x="1004.16" y="945.6"/>
<use href="#star" x="1020.02" y="959.6"/>
<use href="#star" x="1035.88" y="970.6"/>
<use href="#star" x="1051.74" y="978.7"/>
<use href="#star" x="1067.6" y="984"/>
<use href="#star" x="1083.46" y="988"/>
<use href="#star" x="1099.32" y="991"/>
<use href="#star" x="1115.18" y="992.3"/>
<use href="#star" x="1131.04" y="993.5"/>
<use href="#star" x="1146.9" y="994.5"/>
<clipPath id="sd">
<use href="#starc" x="671.1" y="1031.5"/>
<use href="#starc" x="686.96" y="1019.1"/>
<use href="#starc" x="702.82" y="1003.5"/>
<use href="#starc" x="718.68" y="990.5"/>
<use href="#starc" x="734.54" y="976.5"/>
<use href="#starc" x="750.4" y="957.4"/>
<use href="#starc" x="766.26" y="929.6"/>
<use href="#starc" x="782.12" y="888"/>
<use href="#starc" x="797.98" y="845.4"/>
<use href="#starc" x="813.84" y="804.1"/>
<use href="#starc" x="829.7" y="770.3"/>
<use href="#starc" x="845.56" y="745.4"/>
<use href="#starc" x="861.42" y="728.5"/>
<use href="#starc" x="877.28" y="717.5"/>
<use href="#starc" x="893.14" y="712.4"/>
<use href="#starc" x="909" y="711.7"/>
<use href="#starc" x="924.86" y="715.5"/>
<use href="#starc" x="940.72" y="725"/>
<use href="#starc" x="956.58" y="740"/>
<use href="#starc" x="972.44" y="763.3"/>
<use href="#starc" x="988.3" y="792.4"/>
<use href="#starc" x="1004.16" y="829.6"/>
<use href="#starc" x="1020.02" y="867.5"/>
<use href="#starc" x="1035.88" y="902.5"/>
<use href="#starc" x="1051.74" y="934.6"/>
<use href="#starc" x="1067.6" y="960.7"/>
<use href="#starc" x="1083.46" y="981.5"/>
<use href="#starc" x="1099.32" y="997.5"/>
<use href="#starc" x="1115.18" y="1008"/>
<use href="#starc" x="1131.04" y="1017.6"/>
<use href="#starc" x="1146.9" y="1025"/>
<use href="#starc" x="671.1" y="617"/>
<use href="#starc" x="686.96" y="616.5"/>
<use href="#starc" x="702.82" y="617.5"/>
<use href="#starc" x="718.68" y="618.5"/>
<use href="#starc" x="734.54" y="619.3"/>
<use href="#starc" x="750.4" y="621.5"/>
<use href="#starc" x="766.26" y="627"/>
<use href="#starc" x="782.12" y="636"/>
<use href="#starc" x="797.98" y="649.3"/>
<use href="#starc" x="813.84" y="666.2"/>
<use href="#starc" x="829.7" y="686.6"/>
<use href="#starc" x="845.56" y="709.2"/>
<use href="#starc" x="861.42" y="733"/>
<use href="#starc" x="877.28" y="757.8"/>
<use href="#starc" x="893.14" y="783.2"/>
<use href="#starc" x="909" y="809"/>
<use href="#starc" x="924.86" y="834"/>
<use href="#starc" x="940.72" y="859.1"/>
<use href="#starc" x="956.58" y="883.2"/>
<use href="#starc" x="972.44" y="906.5"/>
<use href="#starc" x="988.3" y="927.5"/>
<use href="#starc" x="1004.16" y="945.6"/>
<use href="#starc" x="1020.02" y="959.6"/>
<use href="#starc" x="1035.88" y="970.6"/>
<use href="#starc" x="1051.74" y="978.7"/>
<use href="#starc" x="1067.6" y="984"/>
<use href="#starc" x="1083.46" y="988"/>
<use href="#starc" x="1099.32" y="991"/>
<use href="#starc" x="1115.18" y="992.3"/>
<use href="#starc" x="1131.04" y="993.5"/>
<use href="#starc" x="1146.9" y="994.5"/>
</clipPath>
<polyline points="671.1,1025.75 674.29,1024.17 677.49,1022.63 680.68,1021.11 683.87,1019.59 687.07,1018.04 690.26,1016.45 693.45,1014.79 696.65,1013.05 699.84,1011.2 703.03,1009.22 706.23,1007.09 709.42,1004.79 712.61,1002.3 715.81,999.6 719,996.66 722.19,993.47 725.39,990.01 728.58,986.24 731.77,982.16 734.97,977.74 738.16,972.97 741.35,967.87 744.55,962.46 747.74,956.76 750.93,950.78 754.13,944.56 757.32,938.12 760.51,931.47 763.71,924.63 766.9,917.64 770.09,910.5 773.29,903.24 776.48,895.89 779.67,888.46 782.87,880.97 786.06,873.45 789.25,865.91 792.44,858.38 795.64,850.88 798.83,843.44 802.02,836.06 805.22,828.77 808.41,821.57 811.6,814.48 814.8,807.52 817.99,800.7 821.18,794.03 824.38,787.53 827.57,781.2 830.76,775.07 833.96,769.15 837.15,763.45 840.34,757.98 843.54,752.76 846.73,747.8 849.92,743.11 853.12,738.72 856.31,734.63 859.5,730.85 862.7,727.41 865.89,724.3 869.08,721.51 872.28,719.03 875.47,716.85 878.66,714.96 881.86,713.35 885.05,712.01 888.24,710.91 891.44,710.06 894.63,709.45 897.82,709.05 901.02,708.86 904.21,708.87 907.4,709.07 910.6,709.44 913.79,709.98 916.98,710.71 920.18,711.63 923.37,712.74 926.56,714.06 929.76,715.59 932.95,717.34 936.14,719.32 939.34,721.54 942.53,724 945.72,726.72 948.92,729.69 952.11,732.94 955.3,736.46 958.5,740.27 961.69,744.37 964.88,748.77 968.08,753.48 971.27,758.51 974.46,763.86 977.66,769.52 980.85,775.48 984.04,781.69 987.24,788.15 990.43,794.83 993.62,801.7 996.82,808.73 1000.01,815.92 1003.2,823.22 1006.4,830.63 1009.59,838.11 1012.78,845.64 1015.98,853.19 1019.17,860.75 1022.36,868.28 1025.56,875.78 1028.75,883.2 1031.94,890.53 1035.13,897.74 1038.33,904.82 1041.52,911.74 1044.71,918.5 1047.91,925.1 1051.1,931.53 1054.29,937.79 1057.49,943.86 1060.68,949.74 1063.87,955.42 1067.07,960.89 1070.26,966.16 1073.45,971.21 1076.65,976.04 1079.84,980.64 1083.03,985 1086.23,989.11 1089.42,992.98 1092.61,996.59 1095.81,999.94 1099,1003.02 1102.19,1005.83 1105.39,1008.38 1108.58,1010.69 1111.77,1012.79 1114.97,1014.7 1118.16,1016.43 1121.35,1018.02 1124.55,1019.48 1127.74,1020.83 1130.93,1022.1 1134.13,1023.3 1137.32,1024.47 1140.51,1025.61 1143.71,1026.75 1146.9,1027.92" fill="none" stroke="#98000a" stroke-width="3.2" stroke-linejoin="round"/>
<g clip-path="url(#sd)">
<polyline points="671.1,1025.75 674.29,1024.17 677.49,1022.63 680.68,1021.11 683.87,1019.59 687.07,1018.04 690.26,1016.45 693.45,1014.79 696.65,1013.05 699.84,1011.2 703.03,1009.22 706.23,1007.09 709.42,1004.79 712.61,1002.3 715.81,999.6 719,996.66 722.19,993.47 725.39,990.01 728.58,986.24 731.77,982.16 734.97,977.74 738.16,972.97 741.35,967.87 744.55,962.46 747.74,956.76 750.93,950.78 754.13,944.56 757.32,938.12 760.51,931.47 763.71,924.63 766.9,917.64 770.09,910.5 773.29,903.24 776.48,895.89 779.67,888.46 782.87,880.97 786.06,873.45 789.25,865.91 792.44,858.38 795.64,850.88 798.83,843.44 802.02,836.06 805.22,828.77 808.41,821.57 811.6,814.48 814.8,807.52 817.99,800.7 821.18,794.03 824.38,787.53 827.57,781.2 830.76,775.07 833.96,769.15 837.15,763.45 840.34,757.98 843.54,752.76 846.73,747.8 849.92,743.11 853.12,738.72 856.31,734.63 859.5,730.85 862.7,727.41 865.89,724.3 869.08,721.51 872.28,719.03 875.47,716.85 878.66,714.96 881.86,713.35 885.05,712.01 888.24,710.91 891.44,710.06 894.63,709.45 897.82,709.05 901.02,708.86 904.21,708.87 907.4,709.07 910.6,709.44 913.79,709.98 916.98,710.71 920.18,711.63 923.37,712.74 926.56,714.06 929.76,715.59 932.95,717.34 936.14,719.32 939.34,721.54 942.53,724 945.72,726.72 948.92,729.69 952.11,732.94 955.3,736.46 958.5,740.27 961.69,744.37 964.88,748.77 968.08,753.48 971.27,758.51 974.46,763.86 977.66,769.52 980.85,775.48 984.04,781.69 987.24,788.15 990.43,794.83 993.62,801.7 996.82,808.73 1000.01,815.92 1003.2,823.22 1006.4,830.63 1009.59,838.11 1012.78,845.64 1015.98,853.19 1019.17,860.75 1022.36,868.28 1025.56,875.78 1028.75,883.2 1031.94,890.53 1035.13,897.74 1038.33,904.82 1041.52,911.74 1044.71,918.5 1047.91,925.1 1051.1,931.53 1054.29,937.79 1057.49,943.86 1060.68,949.74 1063.87,955.42 1067.07,960.89 1070.26,966.16 1073.45,971.21 1076.65,976.04 1079.84,980.64 1083.03,985 1086.23,989.11 1089.42,992.98 1092.61,996.59 1095.81,999.94 1099,1003.02 1102.19,1005.83 1105.39,1008.38 1108.58,1010.69 1111.77,1012.79 1114.97,1014.7 1118.16,1016.43 1121.35,1018.02 1124.55,1019.48 1127.74,1020.83 1130.93,1022.1 1134.13,1023.3 1137.32,1024.47 1140.51,1025.61 1143.71,1026.75 1146.9,1027.92" fill="none" stroke="#ff3454" stroke-width="1.7" stroke-linejoin="round"/>
</g>
<polyline points="671.1,612.66 674.29,613.06 677.49,613.43 680.68,613.76 683.87,614.05 687.07,614.32 690.26,614.57 693.45,614.81 696.65,615.03 699.84,615.25 703.03,615.47 706.23,615.7 709.42,615.94 712.61,616.2 715.81,616.48 719,616.79 722.19,617.14 725.39,617.52 728.58,617.96 731.77,618.44 734.97,618.98 738.16,619.58 741.35,620.25 744.55,621 747.74,621.82 750.93,622.73 754.13,623.73 757.32,624.83 760.51,626.03 763.71,627.33 766.9,628.75 770.09,630.28 773.29,631.94 776.48,633.73 779.67,635.65 782.87,637.72 786.06,639.93 789.25,642.29 792.44,644.81 795.64,647.49 798.83,650.34 802.02,653.36 805.22,656.54 808.41,659.88 811.6,663.38 814.8,667.01 817.99,670.78 821.18,674.69 824.38,678.72 827.57,682.86 830.76,687.12 833.96,691.48 837.15,695.93 840.34,700.48 843.54,705.11 846.73,709.82 849.92,714.6 853.12,719.45 856.31,724.35 859.5,729.3 862.7,734.3 865.89,739.33 869.08,744.4 872.28,749.5 875.47,754.62 878.66,759.77 881.86,764.92 885.05,770.1 888.24,775.27 891.44,780.46 894.63,785.64 897.82,790.81 901.02,795.97 904.21,801.12 907.4,806.25 910.6,811.35 913.79,816.43 916.98,821.48 920.18,826.51 923.37,831.5 926.56,836.47 929.76,841.41 932.95,846.31 936.14,851.19 939.34,856.03 942.53,860.84 945.72,865.62 948.92,870.36 952.11,875.07 955.3,879.75 958.5,884.39 961.69,888.99 964.88,893.55 968.08,898.08 971.27,902.57 974.46,907.02 977.66,911.42 980.85,915.76 984.04,920.03 987.24,924.2 990.43,928.28 993.62,932.24 996.82,936.06 1000.01,939.75 1003.2,943.27 1006.4,946.63 1009.59,949.82 1012.78,952.84 1015.98,955.7 1019.17,958.4 1022.36,960.96 1025.56,963.37 1028.75,965.65 1031.94,967.79 1035.13,969.81 1038.33,971.7 1041.52,973.48 1044.71,975.14 1047.91,976.7 1051.1,978.14 1054.29,979.49 1057.49,980.74 1060.68,981.9 1063.87,982.97 1067.07,983.95 1070.26,984.85 1073.45,985.68 1076.65,986.43 1079.84,987.11 1083.03,987.73 1086.23,988.29 1089.42,988.79 1092.61,989.23 1095.81,989.63 1099,989.98 1102.19,990.29 1105.39,990.57 1108.58,990.81 1111.77,991.02 1114.97,991.21 1118.16,991.37 1121.35,991.52 1124.55,991.66 1127.74,991.79 1130.93,991.91 1134.13,992.03 1137.32,992.15 1140.51,992.29 1143.71,992.43 1146.9,992.59" fill="none" stroke="#98000a" stroke-width="3.2" stroke-linejoin="round"/>
<g clip-path="url(#sd)">
<polyline points="671.1,612.66 674.29,613.06 677.49,613.43 680.68,613.76 683.87,614.05 687.07,614.32 690.26,614.57 693.45,614.81 696.65,615.03 699.84,615.25 703.03,615.47 706.23,615.7 709.42,615.94 712.61,616.2 715.81,616.48 719,616.79 722.19,617.14 725.39,617.52 728.58,617.96 731.77,618.44 734.97,618.98 738.16,619.58 741.35,620.25 744.55,621 747.74,621.82 750.93,622.73 754.13,623.73 757.32,624.83 760.51,626.03 763.71,627.33 766.9,628.75 770.09,630.28 773.29,631.94 776.48,633.73 779.67,635.65 782.87,637.72 786.06,639.93 789.25,642.29 792.44,644.81 795.64,647.49 798.83,650.34 802.02,653.36 805.22,656.54 808.41,659.88 811.6,663.38 814.8,667.01 817.99,670.78 821.18,674.69 824.38,678.72 827.57,682.86 830.76,687.12 833.96,691.48 837.15,695.93 840.34,700.48 843.54,705.11 846.73,709.82 849.92,714.6 853.12,719.45 856.31,724.35 859.5,729.3 862.7,734.3 865.89,739.33 869.08,744.4 872.28,749.5 875.47,754.62 878.66,759.77 881.86,764.92 885.05,770.1 888.24,775.27 891.44,780.46 894.63,785.64 897.82,790.81 901.02,795.97 904.21,801.12 907.4,806.25 910.6,811.35 913.79,816.43 916.98,821.48 920.18,826.51 923.37,831.5 926.56,836.47 929.76,841.41 932.95,846.31 936.14,851.19 939.34,856.03 942.53,860.84 945.72,865.62 948.92,870.36 952.11,875.07 955.3,879.75 958.5,884.39 961.69,888.99 964.88,893.55 968.08,898.08 971.27,902.57 974.46,907.02 977.66,911.42 980.85,915.76 984.04,920.03 987.24,924.2 990.43,928.28 993.62,932.24 996.82,936.06 1000.01,939.75 1003.2,943.27 1006.4,946.63 1009.59,949.82 1012.78,952.84 1015.98,955.7 1019.17,958.4 1022.36,960.96 1025.56,963.37 1028.75,965.65 1031.94,967.79 1035.13,969.81 1038.33,971.7 1041.52,973.48 1044.71,975.14 1047.91,976.7 1051.1,978.14 1054.29,979.49 1057.49,980.74 1060.68,981.9 1063.87,982.97 1067.07,983.95 1070.26,984.85 1073.45,985.68 1076.65,986.43 1079.84,987.11 1083.03,987.73 1086.23,988.29 1089.42,988.79 1092.61,989.23 1095.81,989.63 1099,989.98 1102.19,990.29 1105.39,990.57 1108.58,990.81 1111.77,991.02 1114.97,991.21 1118.16,991.37 1121.35,991.52 1124.55,991.66 1127.74,991.79 1130.93,991.91 1134.13,992.03 1137.32,992.15 1140.51,992.29 1143.71,992.43 1146.9,992.59" fill="none" stroke="#ff3454" stroke-width="1.7" stroke-linejoin="round"/>
</g>
</g>
<text transform="translate(623.4 800.5) rotate(-90)" font-size="23.3" text-anchor="middle" textLength="193.5" lengthAdjust="spacingAndGlyphs">log (<tspan font-size="29.12" dx="4.4" dy="-1.2">|</tspan><tspan dx="4.6" dy="1.2" font-size="25.4">Z</tspan><tspan font-size="29.12" dx="5.4" dy="-1.2">|</tspan><tspan dx="5" dy="1.2">/ohm.cm</tspan><tspan dy="-9.55" font-size="16.31">2</tspan><tspan dy="9.55">)</tspan></text>
<text transform="translate(1196 795.6) rotate(-90)" font-size="21" text-anchor="middle" textLength="136" lengthAdjust="spacingAndGlyphs">-Bode phase (°)</text>
<text transform="translate(908.4 1090.7)" font-size="23.3" text-anchor="middle" textLength="86.4" lengthAdjust="spacingAndGlyphs">logf (Hz)</text>
<text transform="translate(893 604.7)" font-size="50" text-anchor="middle">(d)</text>
<rect x="986.2" y="578" width="153" height="58.5" fill="#00e400"/>
<rect x="980.6" y="572.5" width="152.8" height="58.7" fill="#84fdfd" stroke="#a01216" stroke-width="2.6"/>
<line x1="983.5" y1="617" x2="1028.5" y2="617" stroke="#a00c10" stroke-width="3" stroke-linecap="round"/>
<use href="#star" transform="translate(1006 587.1) scale(1)"/>
<text transform="translate(1029.4 593.7)" font-size="20.4">MnO<tspan dy="5.92" font-size="12.85">X</tspan></text>
<text transform="translate(1034.2 623.3)" font-size="20.4" textLength="95.4" lengthAdjust="spacingAndGlyphs">Fitted data</text>
</svg>
</body>
</html>
